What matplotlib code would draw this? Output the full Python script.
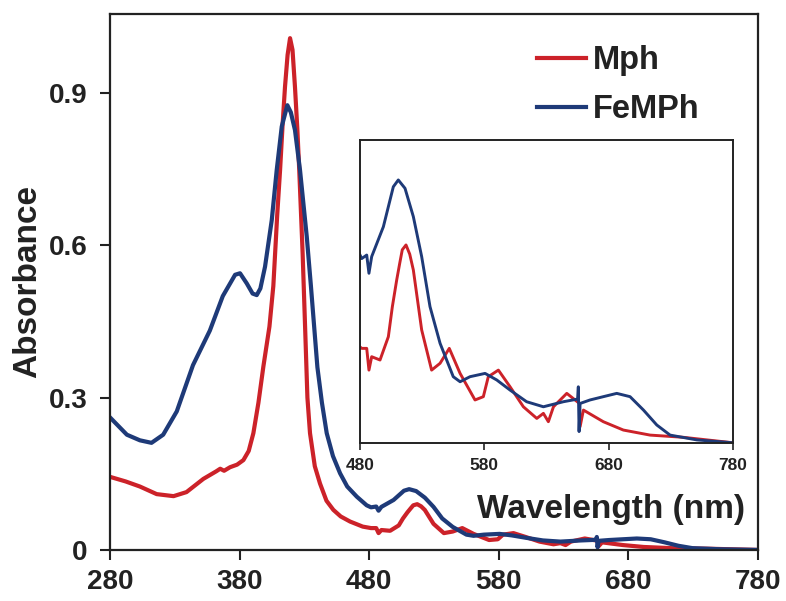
import numpy as np
import matplotlib.pyplot as plt

plt.rcParams['font.family'] = ['Liberation Sans', 'DejaVu Sans']
plt.rcParams['font.weight'] = 'bold'

# FeMPh (blue) spectrum
wl_fe = [280, 293, 303, 312, 321, 331.5, 344, 357, 367, 376.5, 380.3, 385.5, 390,
         393.2, 396, 399.6, 404.8, 408.6, 412.5, 416.8, 419.5, 422.7, 426.6, 431.8,
         435, 437.5, 440, 443.5, 447.2, 452, 457.5, 463, 470.4, 478, 481.4,
         485.4, 487.2, 489.4, 498.8, 506.8, 510.8, 516.2, 522.9, 529.6, 536.3,
         544.4, 555, 560.5, 568.5, 580.6, 590, 600.7, 614, 627.5, 643.6, 655,
         655.6, 656.2, 657, 665, 675.7, 686.5, 697.2, 708, 718.7, 729.4, 751, 780]
abs_fe = [0.261, 0.227, 0.216, 0.211, 0.227, 0.273, 0.364, 0.432, 0.500, 0.542, 0.545,
          0.525, 0.505, 0.502, 0.515, 0.558, 0.650, 0.748, 0.834, 0.876, 0.862, 0.827,
          0.748, 0.617, 0.520, 0.440, 0.360, 0.290, 0.230, 0.185, 0.151, 0.125, 0.105,
          0.088, 0.084, 0.0856, 0.0773, 0.0849, 0.0985, 0.1167, 0.1198, 0.116,
          0.1031, 0.0849, 0.0621, 0.0454, 0.0302, 0.0279, 0.0302, 0.0317, 0.0287,
          0.0241, 0.0188, 0.0165, 0.0188, 0.0200, 0.0256, 0.0052, 0.018, 0.0196,
          0.0211, 0.0226, 0.0211, 0.015, 0.0082, 0.0036, 0.0014, 0.0001]

# Mph (red) spectrum
wl_m = [280, 292, 303, 316, 329, 339, 345, 352, 362, 365, 368, 372.6, 378, 382.9, 387,
        390.6, 394.5, 398.3, 403, 406, 409, 411.2, 413.2, 415, 417, 418.9, 420.8,
        422.7, 424.5, 426, 428.6, 430.5, 432.3, 434.3, 438, 442, 447, 452.3, 458,
        465.2, 475, 481.4, 485.4, 487.2, 489.4, 496.1, 502.8, 506, 509.5, 512, 514,
        517, 520, 522.9, 529.6, 537.6, 544.4, 551.8, 560.5, 572.5, 579.2, 583.2,
        591.3, 600.7, 611.4, 622.2, 627.5, 631.5, 635.6, 646.3, 653, 656.5, 657,
        659.7, 675.7, 691.8, 713.3, 740, 780]
abs_m = [0.144, 0.135, 0.125, 0.110, 0.106, 0.114, 0.126, 0.140, 0.155, 0.160, 0.156,
         0.163, 0.168, 0.177, 0.195, 0.230, 0.290, 0.361, 0.440, 0.520, 0.660, 0.748,
         0.840, 0.912, 0.975, 1.008, 0.985, 0.912, 0.830, 0.748, 0.585, 0.440, 0.300,
         0.230, 0.165, 0.131, 0.097, 0.079, 0.066, 0.056, 0.046, 0.0431, 0.0431,
         0.0332, 0.0393, 0.0378, 0.0484, 0.062, 0.0742, 0.082, 0.088, 0.0902, 0.086,
         0.0788, 0.0515, 0.0332, 0.0363, 0.0431, 0.0317, 0.0196, 0.0211, 0.0302,
         0.0332, 0.0256, 0.0165, 0.0112, 0.0135, 0.0097, 0.0165, 0.0226, 0.0196,
         0.018, 0.0074, 0.015, 0.0097, 0.0059, 0.0036, 0.0026, 0.0001]

xticks = [280, 380, 480, 580, 680, 780]
yticks = [0, 0.3, 0.6, 0.9]
ytick_labels = ['0', '0.3', '0.6', '0.9']
inset_ticks = [480, 580, 680, 780]

red = '#cc2229'
blue = '#1e3a78'

fig = plt.figure(figsize=(7.86, 6.01), dpi=100)
ax = fig.add_axes([0.14, 0.0849, 0.8244, 0.8918])
ax.plot(wl_m, abs_m, color=red, lw=3.0, label='Mph')
ax.plot(wl_fe, abs_fe, color=blue, lw=3.0, label='FeMPh')
ax.set_xlim(280, 780)
ax.set_ylim(0, 1.0556)
ax.set_xticks(xticks)
ax.set_yticks(yticks)
ax.set_yticklabels(ytick_labels)
ax.tick_params(direction='out', length=7, width=1.5, labelsize=20, colors='#222222')
ax.tick_params(axis='x', pad=7)
ax.tick_params(axis='y', pad=9)
for s in ax.spines.values():
    s.set_linewidth(1.6)
    s.set_color('#222222')
ax.set_ylabel('Absorbance', fontsize=24, fontweight='bold', labelpad=4, color='#222222')
ax.text(0.98, 0.0746, 'Wavelength (nm)', fontsize=24, fontweight='bold',
        ha='right', va='center', color='#222222', transform=ax.transAxes)

leg = ax.legend(loc='upper left', bbox_to_anchor=(537 / 786, 1 - 45 / 601),
                bbox_transform=fig.transFigure, frameon=False, fontsize=23.5,
                handlelength=1.5, handletextpad=0.2, labelspacing=0.55,
                borderpad=0, borderaxespad=0)
for t in leg.get_texts():
    t.set_color('#222222')

# inset: zoom on the Q-band region
ins = fig.add_axes([360 / 786, 1 - 443 / 601, 373 / 786, 303 / 601])
ins.plot(wl_m, abs_m, color=red, lw=2.1)
ins.plot(wl_fe, abs_fe, color=blue, lw=2.1)
ins.set_xlim(480, 780)
ins.set_ylim(0, 0.138)
ins.set_xticks(inset_ticks)
ins.set_yticks([])
ins.tick_params(direction='out', length=5, width=1.2, labelsize=12.5, pad=6,
                colors='#222222')
for s in ins.spines.values():
    s.set_linewidth(1.4)
    s.set_color('#222222')

fig.savefig('out.png', dpi=100)
